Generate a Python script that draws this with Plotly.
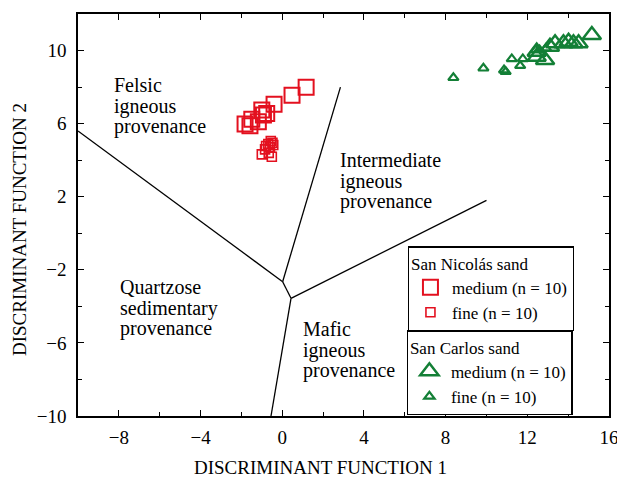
import plotly.graph_objects as go

# ---- data ----
sn_medium_x = [1.17, 0.48, -0.40, -1.00, -0.76, -1.49, -1.82, -1.58, -1.17, -0.92]
sn_medium_y = [7.99, 7.55, 7.06, 6.75, 6.56, 6.24, 5.98, 5.89, 6.10, 6.47]
sn_fine_x = [-0.56, -0.68, -0.44, -0.79, -1.00, -0.51, -0.60, -0.84, -0.48, -0.66]
sn_fine_y = [5.05, 4.88, 4.83, 4.78, 4.32, 4.19, 4.70, 4.59, 4.95, 4.40]
sc_medium_x = [12.46, 12.87, 12.46, 13.11, 13.36, 13.77, 14.02, 14.26, 14.51, 15.16]
sc_medium_y = [9.94, 9.48, 9.66, 10.21, 10.40, 10.40, 10.48, 10.40, 10.40, 10.85]
sc_fine_x = [8.38, 9.85, 10.86, 10.94, 11.24, 11.65, 11.78, 12.41, 12.60, 12.92]
sc_fine_y = [8.51, 9.03, 8.93, 8.84, 9.54, 9.17, 9.54, 10.03, 10.03, 10.12]

# discriminant field boundaries (segments separated by None)
boundary_x = [-10.0, 0.02, None, 0.02, 2.85, None, 0.02, 0.43, None, 0.43, 10.0, None, 0.43, -0.55]
boundary_y = [5.6, -2.65, None, -2.65, 8.0, None, -2.65, -3.56, None, -3.56, 1.8, None, -3.56, -10.0]

region_lines = [["Felsic", "igneous", "provenance"],
                ["Intermediate", "igneous", "provenance"],
                ["Quartzose", "sedimentary", "provenance"],
                ["Mafic", "igneous", "provenance"]]
region_x = [-8.33, 2.73, -8.04, 0.92]
region_y = [6.96, 2.86, -4.09, -6.39]
line_step = 1.13  # data units between text lines

x_ticks = [-8, -4, 0, 4, 8, 12, 16]
y_ticks = [-10, -6, -2, 2, 6, 10]

RED = "#e3101f"
GREEN = "#137f36"
FONT = "Liberation Serif"

fig = go.Figure()
fig.add_trace(go.Scatter(x=boundary_x, y=boundary_y, mode="lines",
                         line=dict(color="black", width=1.3), showlegend=False,
                         hoverinfo="skip"))
fig.add_trace(go.Scatter(x=sn_medium_x, y=sn_medium_y, mode="markers",
                         name="medium (n = 10)", legend="legend",
                         marker=dict(symbol="square-open", size=15, color=RED,
                                     line=dict(color=RED, width=2))))
fig.add_trace(go.Scatter(x=sn_fine_x, y=sn_fine_y, mode="markers",
                         name="fine (n = 10)", legend="legend",
                         marker=dict(symbol="square-open", size=9, color=RED,
                                     line=dict(color=RED, width=1.6))))
fig.add_trace(go.Scatter(x=sc_medium_x, y=sc_medium_y, mode="markers",
                         name="medium (n = 10)", legend="legend2",
                         marker=dict(symbol="triangle-up-open", size=16, color=GREEN,
                                     line=dict(color=GREEN, width=2.5))))
fig.add_trace(go.Scatter(x=sc_fine_x, y=sc_fine_y, mode="markers",
                         name="fine (n = 10)", legend="legend2",
                         marker=dict(symbol="triangle-up-open", size=9, color=GREEN,
                                     line=dict(color=GREEN, width=2.2))))

for lines, x, y in zip(region_lines, region_x, region_y):
    for i, t in enumerate(lines):
        fig.add_annotation(x=x, y=y + (1 - i) * line_step, xref="x", yref="y", text=t,
                           showarrow=False, xanchor="left", yanchor="middle", align="left",
                           font=dict(family=FONT, size=20, color="black"))

fig.add_annotation(text="DISCRIMINANT FUNCTION 1", xref="paper", yref="paper",
                   x=0.456, y=-0.127, xanchor="center", yanchor="middle",
                   showarrow=False, font=dict(family=FONT, size=19, color="black"))
fig.add_annotation(text="DISCRIMINANT FUNCTION 2", xref="paper", yref="paper",
                   x=-0.109, y=0.463, xanchor="center", yanchor="middle", textangle=-90,
                   showarrow=False, font=dict(family=FONT, size=19, color="black"))

axis_common = dict(showline=True, linecolor="black", linewidth=1.5, mirror="allticks",
                   ticks="inside", ticklen=6, tickwidth=1.2, tickcolor="black",
                   showgrid=False, zeroline=False, automargin=False,
                   tickfont=dict(family=FONT, size=19, color="black"),
                   minor=dict(ticks="inside", ticklen=4, tickwidth=1.2,
                              tickcolor="black", dtick=2, tick0=0, showgrid=False))

fig.update_xaxes(range=[-10, 16], tickvals=x_ticks,
                 ticktext=[str(v).replace("-", "−") for v in x_ticks],
                 ticklabelstandoff=3, ticklabeloverflow="allow", **axis_common)
fig.update_yaxes(range=[-10, 12], tickvals=y_ticks,
                 ticktext=[str(v).replace("-", "−") for v in y_ticks],
                 ticklabelstandoff=6, **axis_common)

legend_common = dict(bgcolor="white", bordercolor="black", borderwidth=1.2,
                     font=dict(family=FONT, size=17, color="black"),
                     itemsizing="trace", xanchor="left", yanchor="top",
                     tracegroupgap=0, itemwidth=33)
fig.update_layout(
    width=617, height=477,
    margin=dict(l=78, r=8, t=14, b=61),
    paper_bgcolor="white", plot_bgcolor="white",
    font=dict(family=FONT, size=17, color="black"),
    legend=dict(x=0.621, y=0.422,
                title=dict(text="San Nicolás sand", font=dict(family=FONT, size=17)),
                **legend_common),
    legend2=dict(x=0.619, y=0.213,
                 title=dict(text="San Carlos sand", font=dict(family=FONT, size=17)),
                 **legend_common),
)

# remove the page's default 8px body margin so the figure sits at the window corner
fig.write_html("out.html", config={"displayModeBar": False},
               post_script="document.body.style.margin='0';document.body.style.overflow='hidden';")
